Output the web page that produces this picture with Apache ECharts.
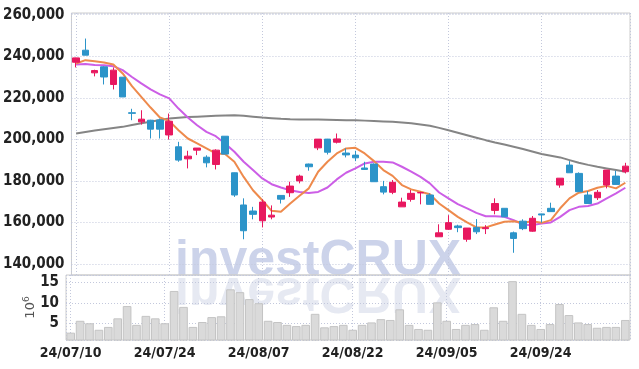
<!DOCTYPE html>
<html>
<head>
<meta charset="utf-8">
<script src="https://cdn.jsdelivr.net/npm/echarts@6/dist/echarts.min.js"></script>
<style>
html,body{margin:0;padding:0;background:#fff;}
#chart{width:639px;height:369px;}
</style>
</head>
<body>
<div id="chart"></div>
<script>
// ---- data ----
const categories = [
  '24/07/10','24/07/11','24/07/12','24/07/15','24/07/16','24/07/17','24/07/18','24/07/19','24/07/22','24/07/23',
  '24/07/24','24/07/25','24/07/26','24/07/29','24/07/30','24/07/31','24/08/01','24/08/02','24/08/05','24/08/06',
  '24/08/07','24/08/08','24/08/09','24/08/12','24/08/13','24/08/14','24/08/16','24/08/19','24/08/20','24/08/21',
  '24/08/22','24/08/23','24/08/26','24/08/27','24/08/28','24/08/29','24/08/30','24/09/02','24/09/03','24/09/04',
  '24/09/05','24/09/06','24/09/09','24/09/10','24/09/11','24/09/12','24/09/13','24/09/19','24/09/20','24/09/23',
  '24/09/24','24/09/25','24/09/26','24/09/27','24/09/30','24/10/02','24/10/04','24/10/07','24/10/08','24/10/10'
];
// [open, close, low, high]
const ohlc = [
  [237100,239200,234600,239300],[242900,240500,240500,248500],[232000,233100,230300,233500],[234900,230000,226400,235200],
  [226400,233300,224000,234600],[229900,220400,220400,229900],[212800,212500,209200,214700],[208400,209700,207100,214000],
  [209200,204900,200400,209400],[209300,204900,200400,210000],[202100,208700,199900,212400],[196400,190000,189200,198800],
  [190600,191900,186000,194500],[194800,195800,192400,195800],[191400,188700,186500,192300],[187900,194800,185500,195200],
  [201500,192900,192900,201500],[183900,173200,172300,184000],[168400,156000,151900,171600],[165500,163900,161500,167500],
  [160800,169800,157600,171100],[162600,163500,161500,168200],[173000,171200,169100,173000],[174300,177500,172300,179600],
  [180000,182300,178800,183000],[188100,186800,184900,188300],[195900,200100,194800,200100],[200100,193800,192700,200200],
  [198600,200200,198000,202800],[193400,192500,191300,195600],[192400,191100,189500,194500],[186200,185500,185400,189200],
  [188100,179600,179600,188400],[177200,174600,173500,180000],[174500,179300,173600,180400],[167500,169800,167500,171900],
  [171100,174000,170000,175600],[174200,174400,168700,174800],[173200,168700,168700,174000],[153100,155000,153100,159100],
  [156700,159900,156400,163500],[158300,157500,155300,158900],[151900,157300,150700,157300],[157600,155500,154400,161600],
  [157000,157500,154400,158700],[165800,169100,163900,171600],[166800,162700,162700,166800],[155000,152300,145400,155600],
  [160600,157000,156300,161500],[155800,162000,155500,163100],[164100,163600,159900,164200],[166800,165200,165200,169500],
  [178000,181300,176700,181300],[187600,183900,183900,189500],[183600,174800,174800,184100],[173200,169100,169100,175100],
  [171900,174500,170800,175600],[178000,185200,176400,185200],[182300,178300,178300,184900],[184400,187100,183600,188700]
];
const maShort = [
  236500,238100,237600,237000,236000,231700,225600,220400,215300,210500,
  208900,204400,200400,198000,195600,193200,192900,189200,181900,175500,
  170700,165600,165100,169100,172800,176400,184400,189200,193200,195600,
  195900,193200,189500,185200,182400,178000,175900,174800,173600,169100,
  165900,162700,160000,157600,157600,159000,160300,160600,159800,160600,
  159800,161100,166800,171600,174300,175100,176700,177600,176400,179100
];
const maMid = [
  236000,236200,235800,235700,235200,233300,230000,226900,224000,221600,
  219700,214800,210500,206800,203600,201500,198000,194000,189200,185200,
  181200,178400,176800,175500,174700,174200,174700,176800,180700,183900,
  186000,188400,189200,189200,188900,186800,184400,181900,178800,174400,
  171600,168800,166800,164600,163000,163000,162700,161100,159000,158700,
  159500,160000,162700,165900,167500,167900,169100,171600,174000,176700
];
const maLong = [
  202800,203500,204200,204800,205400,206000,206900,207700,208500,209300,
  210000,210400,210700,210900,211100,211300,211500,211600,211300,210900,
  210500,210200,209900,209700,209600,209500,209500,209400,209300,209200,
  209200,209000,208800,208600,208400,208100,207700,207100,206500,205500,
  204400,203200,202000,200800,199600,198500,197500,196400,195300,194100,
  192900,192100,191300,190000,188700,187700,186800,186000,185200,184400
];
// volume in millions
const volume = [
  2.7,5.6,5.0,3.4,4.1,6.2,9.2,4.6,6.8,6.2,
  5.0,12.9,9.0,4.1,5.3,6.5,6.7,13.3,12.6,10.9,
  9.9,5.6,5.3,4.6,4.3,4.6,7.3,4.0,4.3,4.6,
  3.4,4.6,5.2,6.0,5.8,8.4,4.6,3.6,3.4,10.1,
  5.6,3.6,4.6,4.8,3.4,8.9,5.6,15.3,7.3,4.6,
  3.6,4.8,9.7,7.0,5.2,4.8,3.9,4.1,4.1,5.8
];

const UP = '#e8185f', DOWN = '#2c94c9';
const gridLine = {show:true, lineStyle:{color:'#c3c8dc', type:[1,2], width:1}};
const labelFont = 'Liberation Sans Narrow, DejaVu Sans Condensed, Liberation Sans, sans-serif';
const wmFont = 'Liberation Sans, Arial, sans-serif';

const chart = echarts.init(document.getElementById('chart'), null, {renderer:'canvas'});
chart.setOption({
  animation:false,
  backgroundColor:'#fff',
  graphic:[
    {type:'text', x:175, y:286, z:-10, silent:true,
     style:{text:'investCRUX', fontSize:50, fontWeight:'bold', fontFamily:wmFont,
            fill:'#ccd3ea', align:'left', verticalAlign:'bottom'}},
    {type:'text', x:175, y:267, z:-10, scaleY:-1, silent:true,
     style:{text:'investCRUX', fontSize:50, fontWeight:'bold', fontFamily:wmFont,
            fill:'#e6e9f2', align:'left', verticalAlign:'bottom'}}
  ],
  grid:[
    {left:66, right:9, top:13, height:262, show:true, borderColor:'#cccccc', borderWidth:1, backgroundColor:'transparent'},
    {left:66, right:9, top:275, height:65, show:true, borderColor:'#cccccc', borderWidth:1, backgroundColor:'transparent'}
  ],
  xAxis:[
    {type:'category', gridIndex:0, data:categories, boundaryGap:true,
     axisLine:{show:false}, axisTick:{show:false}, axisLabel:{show:false}, splitLine:{show:false}},
    {type:'category', gridIndex:1, data:categories, boundaryGap:true,
     axisLine:{show:false}, axisTick:{show:false}, splitLine:{show:false},
     axisLabel:{show:true, interval:9, margin:6, color:'#222', fontSize:14, fontWeight:'bold', fontFamily:labelFont}},
    {type:'value', gridIndex:0, min:-0.5, max:59.5, splitNumber:6, show:true,
     axisLine:{show:false}, axisTick:{show:false}, axisLabel:{show:false}, splitLine:gridLine},
    {type:'value', gridIndex:1, min:-0.5, max:59.5, splitNumber:6, show:true,
     axisLine:{show:false}, axisTick:{show:false}, axisLabel:{show:false}, splitLine:gridLine}
  ],
  yAxis:[
    {type:'value', gridIndex:0, min:134700, max:260800, splitNumber:6, scale:true,
     axisLine:{show:false}, axisTick:{show:false}, splitLine:gridLine,
     axisLabel:{showMinLabel:false, showMaxLabel:false, margin:7, color:'#222', fontSize:15, fontWeight:'bold', fontFamily:labelFont,
       formatter:v=>v.toLocaleString('en-US')}},
    {type:'value', gridIndex:1, min:0.9, max:16.8, splitNumber:3,
     axisLine:{show:false}, axisTick:{show:false}, splitLine:gridLine,
     name:'{a|10}{b|6}', nameLocation:'middle', nameRotate:90, nameGap:27, nameMoveOverlap:false,
     nameTextStyle:{rich:{a:{fontSize:13, color:'#555', fontFamily:'DejaVu Sans, sans-serif'},
                          b:{fontSize:9, color:'#555', fontFamily:'DejaVu Sans, sans-serif', padding:[0,0,8,0]}}},
     axisLabel:{showMinLabel:false, showMaxLabel:false, margin:7, color:'#222', fontSize:15, fontWeight:'bold', fontFamily:labelFont}}
  ],
  series:[
    {type:'candlestick', xAxisIndex:0, yAxisIndex:0, data:ohlc, barWidth:7, z:5,
     itemStyle:{color:UP, color0:DOWN, borderColor:UP, borderColor0:DOWN, borderWidth:1}},
    {type:'line', xAxisIndex:0, yAxisIndex:0, data:maLong, symbol:'none', z:4,
     lineStyle:{color:'#858585', width:2}},
    {type:'line', xAxisIndex:0, yAxisIndex:0, data:maMid, symbol:'none', z:4,
     lineStyle:{color:'#cc5ee6', width:2}},
    {type:'line', xAxisIndex:0, yAxisIndex:0, data:maShort, symbol:'none', z:4,
     lineStyle:{color:'#ee8a4c', width:2}},
    {type:'bar', xAxisIndex:1, yAxisIndex:1, data:volume, barCategoryGap:'8%', z:3,
     itemStyle:{color:'#dadada', borderColor:'#c4c4c4', borderWidth:1}}
  ]
});
</script>
</body>
</html>
